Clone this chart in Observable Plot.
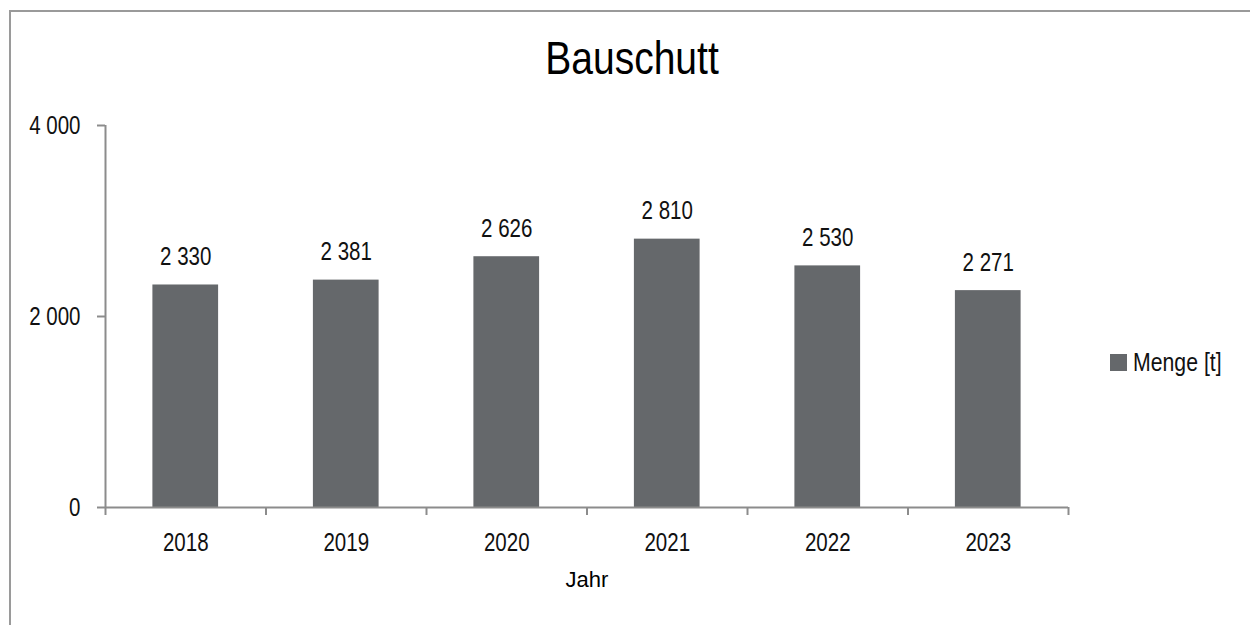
<!DOCTYPE html>
<html>
<head>
<meta charset="utf-8">
<script src="https://cdn.jsdelivr.net/npm/d3@7"></script>
<script src="https://cdn.jsdelivr.net/npm/@observablehq/plot@0.6"></script>
<style>
  html, body { margin: 0; padding: 0; background: #fff; overflow: hidden; }
  #wrap { position: relative; width: 1250px; height: 625px; overflow: hidden; font-family: "Liberation Sans", Arial, sans-serif; }
  #bTop { position: absolute; left: 9px; top: 10px; width: 1241px; height: 2px; background: #9a9a9a; }
  #bLeft { position: absolute; left: 9px; top: 10px; width: 2px; height: 615px; background: #9a9a9a; }
  #title { position: absolute; left: 632px; top: 34px; transform: translateX(-50%) scaleX(0.83); font-size: 47px; color: #000; white-space: nowrap; line-height: 1; }
  #legend { position: absolute; left: 1110px; top: 350px; font-size: 25px; color: #111; white-space: nowrap; display: flex; align-items: center; line-height: 1; }
  #legend .sw { width: 17px; height: 17px; background: #65686b; margin-right: 6px; flex: none; }
  #legend .lt { display: inline-block; transform: scaleX(0.85); transform-origin: left center; }
  #chart { position: absolute; left: 0; top: 0; }
</style>
</head>
<body>
<div id="wrap">
  <div id="bTop"></div>
  <div id="bLeft"></div>
  <div id="chart"></div>
  <div id="title">Bauschutt</div>
  <div id="legend"><span class="sw"></span><span class="lt">Menge [t]</span></div>
</div>
<script>
const years = ["2018", "2019", "2020", "2021", "2022", "2023"];
const values = [2330, 2381, 2626, 2810, 2530, 2271];
const yTicks = [0, 2000, 4000];
const seriesName = "Menge [t]";
const xLabel = "Jahr";

const locale = d3.formatLocale({decimal: ",", thousands: " ", grouping: [3], currency: ["", " €"]});
const fmt = locale.format(",");

const data = years.map((y, i) => ({year: y, i, value: values[i]}));
const boundaries = d3.range(years.length + 1);
const centers = years.map((_, i) => i + 0.5);

const axisColor = "#8c8c8c";
const barColor = "#65686b";
const textColor = "#111";

const plot = Plot.plot({
  width: 1250,
  height: 625,
  marginLeft: 105,
  marginRight: 182,
  marginTop: 125,
  marginBottom: 118,
  style: {fontFamily: '"Liberation Sans", Arial, sans-serif', fontSize: "25px", color: textColor, background: "transparent"},
  x: {type: "linear", domain: [0, years.length], axis: null},
  y: {domain: [0, 4000], axis: null},
  marks: [
    Plot.rectY(data, {x1: "i", x2: d => d.i + 1, y: "value", fill: barColor, insetLeft: 47.4, insetRight: 47.4}),
    Plot.text(data, {x: d => d.i + 0.5, y: "value", text: d => fmt(d.value), dy: -28, fill: textColor, fontSize: 25}),
    Plot.axisY({ticks: yTicks, tickSize: 8, tickPadding: 17, tickFormat: fmt, stroke: axisColor, strokeWidth: 2, strokeOpacity: 1, fill: textColor, fontSize: 25, label: null}),
    Plot.axisX({ticks: boundaries, tickSize: 8, tickFormat: () => "", stroke: axisColor, strokeWidth: 2, strokeOpacity: 1, label: null}),
    Plot.axisX({ticks: centers, tickSize: 0, tickPadding: 26, tickFormat: d => years[Math.round(d - 0.5)], fill: textColor, fontSize: 25, label: null}),
    Plot.ruleX([0], {stroke: axisColor, strokeWidth: 2}),
    Plot.ruleY([0], {stroke: axisColor, strokeWidth: 2}),
    Plot.text([xLabel], {frameAnchor: "bottom", dy: 79, text: d => d, fontSize: 22, fill: "#000"})
  ]
});
document.getElementById("chart").appendChild(plot);

// condense the axis and value labels (narrow face look)
plot.querySelectorAll("text").forEach(t => {
  if (t.textContent === xLabel || !t.textContent.trim()) return;
  const len = t.getComputedTextLength();
  if (len > 0) {
    t.setAttribute("textLength", (len * 0.82).toFixed(2));
    t.setAttribute("lengthAdjust", "spacingAndGlyphs");
  }
});
</script>
</body>
</html>
